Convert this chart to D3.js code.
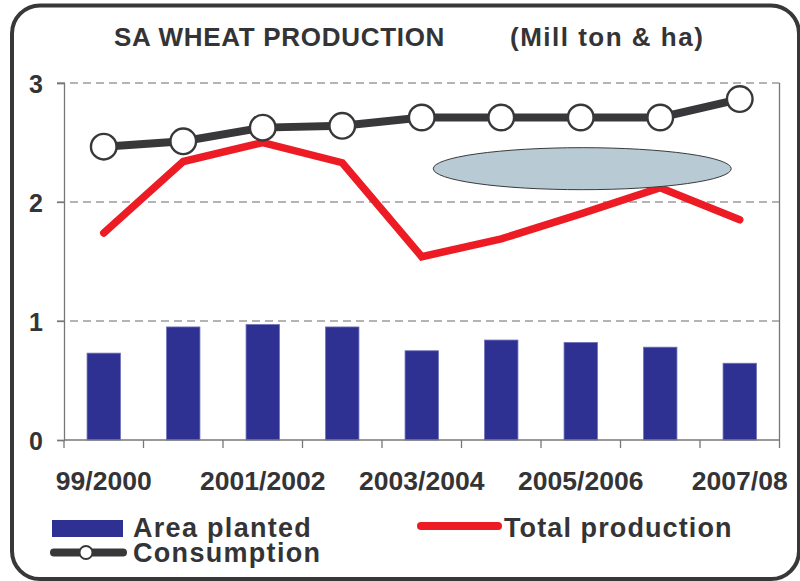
<!DOCTYPE html>
<html>
<head>
<meta charset="utf-8">
<script src="https://cdn.jsdelivr.net/npm/d3@7"></script>
<style>
  html, body { margin: 0; padding: 0; background: #fff; }
  svg { display: block; }
  text { font-family: "Liberation Sans", Arial, sans-serif; font-weight: bold; fill: #343436; }
</style>
</head>
<body>
<svg id="chart" width="800" height="581"></svg>
<script>
// ---- data ----
const categories = ["99/2000", "2000/2001", "2001/2002", "2002/2003", "2003/2004",
                    "2004/2005", "2005/2006", "2006/2007", "2007/08"];
const areaPlanted = [0.73, 0.95, 0.97, 0.95, 0.75, 0.84, 0.82, 0.78, 0.645];
const totalProduction = [1.74, 2.34, 2.50, 2.33, 1.54, 1.69, 1.90, 2.12, 1.85];
const consumption = [2.465, 2.51, 2.625, 2.64, 2.71, 2.71, 2.71, 2.71, 2.865];
const yTicks = [0, 1, 2, 3];
const shownLabels = ["99/2000", "2001/2002", "2003/2004", "2005/2006", "2007/08"];
const titleMain = "SA WHEAT PRODUCTION";
const titleUnit = "(Mill ton & ha)";
const legendLabels = { area: "Area planted", prod: "Total production", cons: "Consumption" };

// ---- layout ----
const svg = d3.select("#chart");
const plot = { left: 64, right: 779.5, top: 83, bottom: 440 };

const x = d3.scaleBand().domain(categories).range([plot.left, plot.right]).padding(0);
const y = d3.scaleLinear().domain([0, 3]).range([plot.bottom, plot.top]);
const cx = d => x(d) + x.bandwidth() / 2;

const colors = { bar: "#2e3192", barEdge: "#6d71b8", red: "#ed1c24", cons: "#38383a", grid: "#6a6a6a", axis: "#777" };

// frame
svg.append("rect")
  .attr("x", 12).attr("y", 5.5).attr("width", 787).attr("height", 573.5)
  .attr("rx", 28).attr("ry", 28)
  .attr("fill", "#fff").attr("stroke", "#38383a").attr("stroke-width", 4);

// title
svg.append("text").attr("x", 114).attr("y", 45.5)
  .attr("font-size", 26).attr("letter-spacing", 0.7).text(titleMain);
svg.append("text").attr("x", 510).attr("y", 45.5)
  .attr("font-size", 26).attr("letter-spacing", 1.5).text(titleUnit);

// gridlines (dashed) at 1,2,3
svg.append("g").selectAll("line").data(yTicks.filter(v => v > 0)).join("line")
  .attr("x1", plot.left - 7).attr("x2", plot.right)
  .attr("y1", d => y(d)).attr("y2", d => y(d))
  .attr("stroke", colors.grid).attr("stroke-width", 1.2)
  .attr("stroke-dasharray", "8,5");

// right border of plot
svg.append("line")
  .attr("x1", plot.right).attr("x2", plot.right)
  .attr("y1", y(3)).attr("y2", y(0))
  .attr("stroke", colors.axis).attr("stroke-width", 1.3);

// bars
const barFrac = 0.42;
svg.append("g").selectAll("rect").data(categories).join("rect")
  .attr("x", d => cx(d) - x.bandwidth() * barFrac / 2)
  .attr("width", x.bandwidth() * barFrac)
  .attr("y", (d, i) => y(areaPlanted[i]))
  .attr("height", (d, i) => y(0) - y(areaPlanted[i]))
  .attr("fill", colors.bar)
  .attr("stroke", colors.barEdge).attr("stroke-width", 0.8);

// y axis
const yAxis = d3.axisLeft(y).tickValues(yTicks).tickSize(7).tickPadding(14).tickFormat(d3.format("d"));
const gy = svg.append("g").attr("transform", `translate(${plot.left},0)`).call(yAxis);
gy.select(".domain").attr("stroke", colors.axis).attr("stroke-width", 1.3);
gy.selectAll(".tick line").attr("stroke", colors.axis).attr("stroke-width", 1.3);
gy.selectAll(".tick text").attr("font-size", 25).attr("font-family", "Liberation Sans, Arial, sans-serif")
  .attr("font-weight", "bold").attr("fill", "#343436").attr("dy", "0.36em");

// x axis: ticks at band boundaries
const boundaries = categories.map(d => x(d)).concat([plot.right]);
svg.append("line")
  .attr("x1", plot.left).attr("x2", plot.right)
  .attr("y1", y(0)).attr("y2", y(0))
  .attr("stroke", colors.axis).attr("stroke-width", 1.3);
svg.append("g").selectAll("line").data(boundaries).join("line")
  .attr("x1", d => d).attr("x2", d => d)
  .attr("y1", y(0)).attr("y2", y(0) + 8)
  .attr("stroke", colors.axis).attr("stroke-width", 1.3);
svg.append("g").selectAll("text").data(shownLabels).join("text")
  .attr("x", d => cx(d)).attr("y", 490)
  .attr("text-anchor", "middle").attr("font-size", 26.5)
  .text(d => d);

// total production line
const line = d3.line().x((d, i) => cx(categories[i])).y(d => y(d));
svg.append("path").datum(totalProduction)
  .attr("d", line).attr("fill", "none")
  .attr("stroke", colors.red).attr("stroke-width", 7.5)
  .attr("stroke-linecap", "round").attr("stroke-linejoin", "miter");

// consumption line
svg.append("path").datum(consumption)
  .attr("d", line).attr("fill", "none")
  .attr("stroke", colors.cons).attr("stroke-width", 8);
svg.append("g").selectAll("circle").data(consumption).join("circle")
  .attr("cx", (d, i) => cx(categories[i])).attr("cy", d => y(d))
  .attr("r", 12.8).attr("fill", "#fff")
  .attr("stroke", colors.cons).attr("stroke-width", 2.4);

// annotation ellipse
svg.append("ellipse")
  .attr("cx", cx("2005/2006") + 1.5).attr("cy", y(2.28))
  .attr("rx", 149).attr("ry", 21)
  .attr("fill", "#b8cbd5").attr("stroke", "#3a3a3a").attr("stroke-width", 1);

// legend
const lg = svg.append("g");
lg.append("rect").attr("x", 52).attr("y", 520).attr("width", 71).attr("height", 17)
  .attr("fill", colors.bar);
lg.append("text").attr("x", 133).attr("y", 536.5).attr("font-size", 27)
  .attr("letter-spacing", 1.3).text(legendLabels.area);

lg.append("line").attr("x1", 421).attr("x2", 498).attr("y1", 526).attr("y2", 526)
  .attr("stroke", colors.red).attr("stroke-width", 8).attr("stroke-linecap", "round");
lg.append("text").attr("x", 504).attr("y", 536.5).attr("font-size", 27)
  .attr("letter-spacing", 1.1).text(legendLabels.prod);

lg.append("line").attr("x1", 54).attr("x2", 123).attr("y1", 552.5).attr("y2", 552.5)
  .attr("stroke", colors.cons).attr("stroke-width", 8).attr("stroke-linecap", "round");
lg.append("circle").attr("cx", 86).attr("cy", 552.5).attr("r", 6.5)
  .attr("fill", "#fff").attr("stroke", colors.cons).attr("stroke-width", 2);
lg.append("text").attr("x", 133).attr("y", 562).attr("font-size", 27)
  .attr("letter-spacing", 1.3).text(legendLabels.cons);
</script>
</body>
</html>
